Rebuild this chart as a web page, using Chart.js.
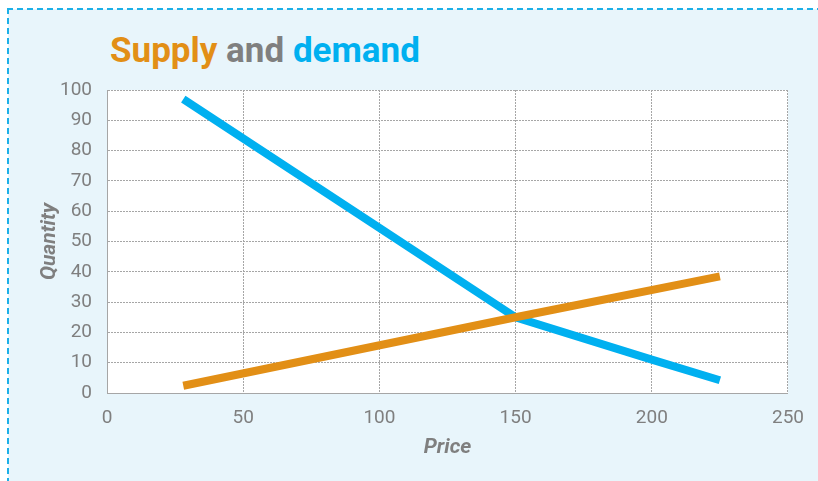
<!DOCTYPE html>
<html>
<head>
<meta charset="utf-8">
<script src="https://cdn.jsdelivr.net/npm/chart.js@4/dist/chart.umd.min.js"></script>
<style>
  html, body { margin: 0; padding: 0; background: #ffffff; overflow: hidden; }
  #frame {
    position: absolute; left: 8px; top: 9px; width: 840px; height: 500px;
    background: #e8f5fb;
  }
  #edgeTop {
    position: absolute; left: 7px; top: 8px; width: 840px; height: 2px;
    background: repeating-linear-gradient(to right, #1cb0e8 0 6px, transparent 6px 10px);
  }
  #edgeLeft {
    position: absolute; left: 7px; top: 8px; width: 2px; height: 500px;
    background: repeating-linear-gradient(to bottom, #1cb0e8 0 6px, transparent 6px 10px);
  }
  #title {
    position: absolute; left: 110px; top: 33px; line-height: 1;
    font-family: Roboto, sans-serif; font-weight: bold; font-size: 35px;
    color: #7f7f7f; white-space: nowrap;
  }
  #wrap { position: absolute; left: 0; top: 0; width: 818px; height: 481px; }
</style>
</head>
<body>
<div id="frame"></div>
<div id="edgeTop"></div>
<div id="edgeLeft"></div>
<div id="title"><span style="color:#e28f16">Supply</span> and <span style="color:#00b0f0">demand</span></div>
<div id="wrap"><canvas id="supplyDemandChart"></canvas></div>
<script>
// values
var supplyPrice = [28, 150, 225];
var supplyQty = [2.4, 25, 38.5];
var demandPrice = [28, 100, 150, 200, 225];
var demandQty = [97, 54.5, 25, 11, 4.2];
var xTicks = [0, 50, 100, 150, 200, 250];

function toPoints(xs, ys) {
    var pts = [];
    xs.forEach(function(x, i) {
        pts.push({ x: x, y: ys[i] });
    });
    return pts;
}

var plotBg = {
    id: "plotBg",
    beforeDraw: function(chart) {
        var a = chart.chartArea;
        var ctx = chart.ctx;
        ctx.save();
        ctx.fillStyle = "#ffffff";
        ctx.fillRect(a.left, a.top, a.right - a.left, a.bottom - a.top);
        ctx.restore();
    }
};

var gray = "#7f7f7f";
var gridColor = "#a6a6a6";

var ctxSD = document.getElementById("supplyDemandChart");
new Chart(ctxSD, {
    type: "scatter",
    data: {
        datasets: [
            {
                label: "Supply",
                data: toPoints(supplyPrice, supplyQty),
                showLine: true,
                borderColor: "#e28f16",
                borderWidth: 8,
                borderCapStyle: "butt",
                pointRadius: 0,
            },
            {
                label: "Demand",
                data: toPoints(demandPrice, demandQty),
                showLine: true,
                borderColor: "#00b0f0",
                borderWidth: 8,
                borderCapStyle: "butt",
                pointRadius: 0,
            },
        ],
    },
    options: {
        responsive: true,
        maintainAspectRatio: false,
        animation: false,
        layout: { padding: { left: 0, right: 29, top: 90, bottom: 0 } },
        plugins: {
            legend: { display: false },
            tooltip: { enabled: false },
        },
        scales: {
            x: {
                type: "linear",
                min: 0,
                max: 250,
                afterBuildTicks: function(scale) {
                    scale.ticks = xTicks.map(function(v) { return { value: v }; });
                },
                afterFit: function(scale) { scale.height = 88; },
                grid: { color: gridColor, lineWidth: 1, borderDash: [2, 1], drawTicks: false },
                border: { display: true, color: gridColor, dash: [2, 1] },
                ticks: {
                    color: gray,
                    padding: 14,
                    font: { family: "Roboto", size: 19 },
                },
                title: {
                    display: true,
                    text: "Price",
                    color: gray,
                    padding: { top: 0, bottom: 21 },
                    font: { family: "Roboto", size: 21, weight: "bold", style: "italic" },
                },
            },
            y: {
                min: 0,
                max: 100,
                afterFit: function(scale) { scale.width = 107; },
                grid: { color: gridColor, lineWidth: 1, borderDash: [2, 1], drawTicks: false },
                border: { display: true, color: gridColor, dash: [2, 1] },
                ticks: {
                    stepSize: 10,
                    color: gray,
                    padding: 15,
                    font: { family: "Roboto", size: 19 },
                },
                title: {
                    display: true,
                    text: "Quantity",
                    color: gray,
                    padding: { top: 37, bottom: 0 },
                    font: { family: "Roboto", size: 21, weight: "bold", style: "italic" },
                },
            },
        },
    },
    plugins: [plotBg],
});
</script>
</body>
</html>
